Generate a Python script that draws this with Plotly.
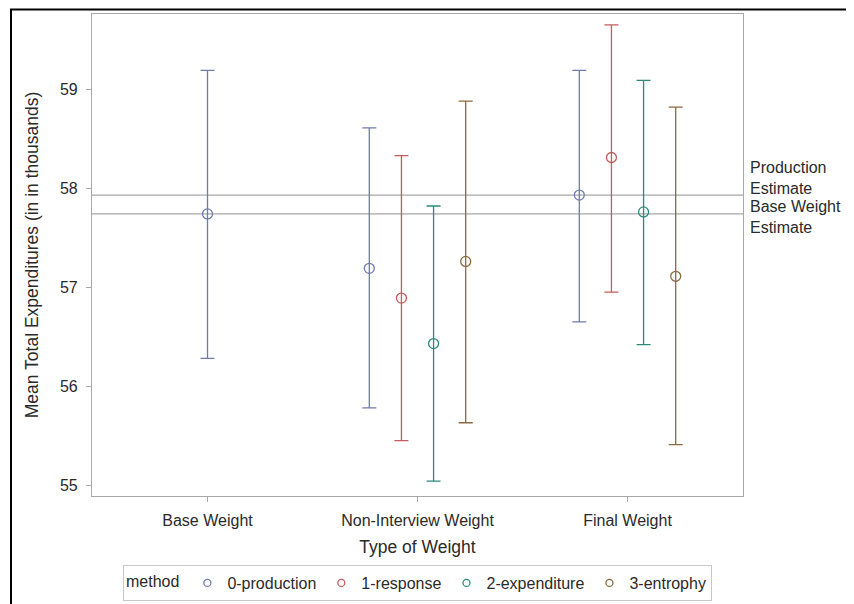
import plotly.graph_objects as go

categories = ["Base Weight", "Non-Interview Weight", "Final Weight"]
methods = ["0-production", "1-response", "2-expenditure", "3-entrophy"]

# mean, lower, upper per method for each category (None = not present)
means = {
    "0-production": [57.74, 57.19, 57.93],
    "1-response": [None, 56.89, 58.31],
    "2-expenditure": [None, 56.43, 57.76],
    "3-entrophy": [None, 57.26, 57.11],
}
lowers = {
    "0-production": [56.28, 55.78, 56.65],
    "1-response": [None, 55.45, 56.95],
    "2-expenditure": [None, 55.04, 56.42],
    "3-entrophy": [None, 55.63, 55.41],
}
uppers = {
    "0-production": [59.19, 58.61, 59.19],
    "1-response": [None, 58.33, 59.65],
    "2-expenditure": [None, 57.82, 59.09],
    "3-entrophy": [None, 58.88, 58.82],
}
ref_values = [57.93, 57.74]
ref_labels = ["Production<br>Estimate", "Base Weight<br>Estimate"]

colors = ["#6F7AB6", "#C65A5C", "#2B8A7C", "#8A6A3E"]
FONT = "Liberation Sans, Arial, sans-serif"
TXT = "#2A2A2A"

fig = go.Figure()
for mi, m in enumerate(methods):
    xs, ys, ep, em = [], [], [], []
    for ci, cat in enumerate(categories):
        v = means[m][ci]
        if v is None:
            continue
        present = [mm for mm in methods if means[mm][ci] is not None]
        n = len(present)
        k = present.index(m)
        off = 0 if n == 1 else (k - (n - 1) / 2) * 0.153
        xs.append(ci + off)
        ys.append(v)
        ep.append(uppers[m][ci] - v)
        em.append(v - lowers[m][ci])
    fig.add_trace(go.Scatter(
        x=xs, y=ys, mode="markers", name=m, showlegend=False,
        marker=dict(symbol="circle-open", size=10, color=colors[mi], line=dict(width=1.3)),
        error_y=dict(type="data", symmetric=False, array=ep, arrayminus=em,
                     color=colors[mi], thickness=1.3, width=7),
    ))
    # legend entry with a small symbol
    fig.add_trace(go.Scatter(
        x=[None], y=[None], mode="markers", name=m, showlegend=True,
        marker=dict(symbol="circle-open", size=7, color=colors[mi], line=dict(width=1.3)),
    ))

for v in ref_values:
    fig.add_shape(type="line", xref="paper", yref="y", x0=0, x1=1, y0=v, y1=v,
                  line=dict(color="#A8A8A8", width=1.2), layer="below")

fig.add_annotation(xref="paper", yref="y", x=1.008, y=ref_values[0], text=ref_labels[0],
                   showarrow=False, xanchor="left", yanchor="middle", align="left",
                   font=dict(family=FONT, size=16, color=TXT), yshift=17)
fig.add_annotation(xref="paper", yref="y", x=1.008, y=ref_values[1], text=ref_labels[1],
                   showarrow=False, xanchor="left", yanchor="middle", align="left",
                   font=dict(family=FONT, size=16, color=TXT), yshift=-3)

W, H = 846, 596
ML, MR, MT, MB = 84, 111, 6, 108
PW, PH = W - ML - MR, H - MT - MB
# outer frame
fig.add_shape(type="rect", xref="paper", yref="paper",
              x0=(3 - ML) / PW, x1=(W + 50 - ML) / PW,
              y0=-300 / PH, y1=1 + 4.5 / PH,
              line=dict(color="black", width=2), fillcolor="rgba(0,0,0,0)")

fig.update_layout(
    width=W, height=H,
    margin=dict(l=ML, r=MR, t=MT, b=MB),
    paper_bgcolor="white", plot_bgcolor="white",
    font=dict(family=FONT, size=16, color=TXT),
    showlegend=True,
    legend=dict(orientation="h", x=0.5, xanchor="center", xref="paper",
                y=1 - 557 / H, yanchor="top", yref="container",
                bordercolor="#C8C8C8", borderwidth=1,
                title=dict(text="method", font=dict(size=16, color=TXT)),
                font=dict(size=16, color=TXT), itemwidth=30, tracegroupgap=0),
    xaxis=dict(
        range=[-0.55, 2.55], tickmode="array", tickvals=[0, 1, 2], ticktext=categories,
        showgrid=False, zeroline=False, showline=True, linecolor="#A8A8A8", linewidth=1.2,
        mirror=True, ticks="outside", ticklen=5, tickcolor="#A8A8A8", ticklabelstandoff=5,
        title=dict(text="Type of Weight", font=dict(size=17.5, color=TXT), standoff=12),
        tickfont=dict(size=16, color=TXT), automargin=False,
    ),
    yaxis=dict(
        range=[54.89, 59.76], tickmode="array", tickvals=[55, 56, 57, 58, 59],
        showgrid=False, zeroline=False, showline=True, linecolor="#A8A8A8", linewidth=1.2,
        mirror=True, ticks="outside", ticklen=5, tickcolor="#A8A8A8", ticklabelstandoff=5,
        title=dict(text="Mean Total Expenditures (in in thousands)", font=dict(size=17.5, color=TXT), standoff=16),
        tickfont=dict(size=16, color=TXT), automargin=False,
    ),
)

fig.write_html("out.html")
